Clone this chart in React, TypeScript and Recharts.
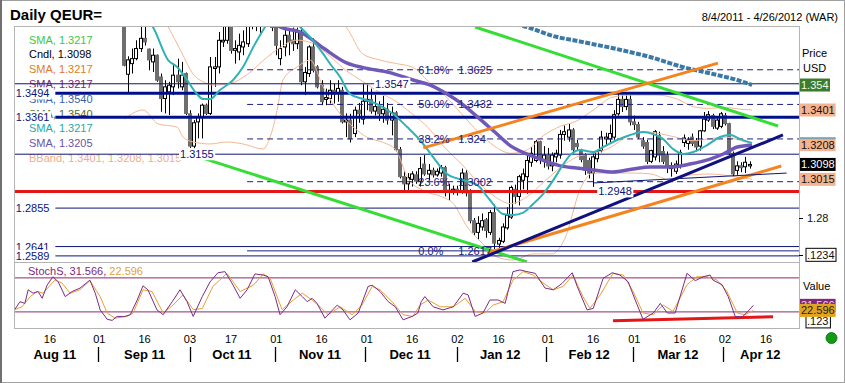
import React from 'react';
import { ComposedChart, Bar, Line, XAxis, YAxis, ReferenceLine, ReferenceDot } from 'recharts';

const FONT = '"Liberation Sans", Arial, Helvetica, sans-serif';
const W = 845;
const H = 383;

// x axis = trading-day number, day 0 = Thu 4 Aug 2011
const dayDomain: [number, number] = [-0.5, 190];
const priceDomain: [number, number] = [1.2555, 1.3863];
const stochDomain: [number, number] = [-8.4, 108];

const dayTicks = [8, 20, 31, 42, 52, 63, 74, 85, 96, 107, 117, 129, 140, 150, 161, 172, 182];
const dayLabels = ['16', '01', '16', '03', '17', '01', '16', '01', '16', '02', '16', '01', '16', '01', '16', '02', '16'];
const monthTicks = [9.2, 31, 52.2, 73.6, 95.5, 117.4, 139, 160.6, 180.6];
const monthLabels = ['Aug 11', 'Sep 11', 'Oct 11', 'Nov 11', 'Dec 11', 'Jan 12', 'Feb 12', 'Mar 12', 'Apr 12'];
const monthBreaks = [19.7, 42, 62.7, 84.6, 106.9, 128.6, 149.7, 171.6];

// daily candles, first one = Fri 9 Sep 2011 (day 26)
const FIRST_DAY = 26;
const opens = [
  1.3880, 1.3600, 1.3659, 1.3687, 1.3743, 1.3800, 1.3740, 1.3669, 1.3706, 1.3585,
  1.3465, 1.3502, 1.3530, 1.3595, 1.3530, 1.3604, 1.3380, 1.3200, 1.3335, 1.3363,
  1.3428, 1.3382, 1.3632, 1.3641, 1.3780, 1.3789, 1.3880, 1.3733, 1.3724, 1.3752,
  1.3770, 1.3890, 1.3920, 1.3900, 1.3910, 1.4180, 1.4150, 1.3870, 1.3687, 1.3752,
  1.3817, 1.3790, 1.3770, 1.3835, 1.3558, 1.3604, 1.3752, 1.3641, 1.3539, 1.3460,
  1.3465, 1.3511, 1.3493, 1.3511, 1.3335, 1.3345, 1.3270, 1.3400, 1.3350, 1.3450,
  1.3460, 1.3395, 1.3420, 1.3380, 1.3405, 1.3345, 1.3385, 1.3180, 1.3030, 1.2990,
  1.3015, 1.3040, 1.3005, 1.3100, 1.3045, 1.3065, 1.3040, 1.3050, 1.3080, 1.2955,
  1.2945, 1.2960, 1.2945, 1.3050, 1.2940, 1.2785, 1.2720, 1.2750, 1.2790, 1.2720,
  1.2830, 1.2655, 1.2670, 1.2745, 1.2805, 1.2960, 1.2920, 1.3010, 1.3030, 1.3110,
  1.3120, 1.3225, 1.3120, 1.3150, 1.3090, 1.3140, 1.3150, 1.3265, 1.3250, 1.3290,
  1.3215, 1.3170, 1.3150, 1.3120, 1.3050, 1.3130, 1.3175, 1.3240, 1.3240, 1.3250,
  1.3380, 1.3460, 1.3420, 1.3460, 1.3335, 1.3320, 1.3230, 1.3220, 1.3115, 1.3140,
  1.3260, 1.3170, 1.3150, 1.3075, 1.3060, 1.3090, 1.3220, 1.3215, 1.3250, 1.3230,
  1.3200, 1.3285, 1.3345, 1.3370, 1.3300, 1.3310, 1.3370, 1.3325, 1.3160, 1.3065,
  1.3090, 1.3085, 1.3090,
];
const highs = [
  1.3900, 1.3700, 1.3743, 1.3789, 1.3880, 1.3890, 1.3743, 1.3743, 1.3710, 1.3604,
  1.3567, 1.3558, 1.3659, 1.3687, 1.3669, 1.3610, 1.3400, 1.3345, 1.3382, 1.3437,
  1.3437, 1.3696, 1.3696, 1.3835, 1.3863, 1.3900, 1.3890, 1.3789, 1.3826, 1.3844,
  1.3900, 1.3960, 1.3970, 1.3960, 1.4240, 1.4240, 1.4160, 1.3880, 1.3789, 1.3850,
  1.3844, 1.3860, 1.3860, 1.3863, 1.3640, 1.3761, 1.3800, 1.3650, 1.3567, 1.3520,
  1.3567, 1.3548, 1.3567, 1.3530, 1.3382, 1.3380, 1.3420, 1.3440, 1.3545, 1.3547,
  1.3520, 1.3485, 1.3450, 1.3480, 1.3440, 1.3420, 1.3395, 1.3195, 1.3060, 1.3050,
  1.3060, 1.3060, 1.3140, 1.3150, 1.3100, 1.3080, 1.3075, 1.3095, 1.3090, 1.2990,
  1.2980, 1.2980, 1.3075, 1.3065, 1.2960, 1.2800, 1.2810, 1.2825, 1.2800, 1.2845,
  1.2875, 1.2690, 1.2770, 1.2860, 1.2980, 1.2985, 1.3040, 1.3075, 1.3160, 1.3195,
  1.3235, 1.3230, 1.3200, 1.3190, 1.3165, 1.3180, 1.3290, 1.3315, 1.3325, 1.3300,
  1.3235, 1.3185, 1.3160, 1.3135, 1.3160, 1.3180, 1.3285, 1.3275, 1.3320, 1.3400,
  1.3490, 1.3486, 1.3486, 1.3484, 1.3370, 1.3335, 1.3250, 1.3235, 1.3180, 1.3290,
  1.3280, 1.3200, 1.3170, 1.3110, 1.3120, 1.3180, 1.3265, 1.3250, 1.3270, 1.3245,
  1.3290, 1.3390, 1.3395, 1.3380, 1.3365, 1.3390, 1.3385, 1.3330, 1.3170, 1.3115,
  1.3110, 1.3140, 1.3115,
];
const lows = [
  1.3644, 1.3500, 1.3604, 1.3678, 1.3724, 1.3760, 1.3622, 1.3613, 1.3558, 1.3391,
  1.3382, 1.3373, 1.3484, 1.3521, 1.3511, 1.3373, 1.3190, 1.3155, 1.3243, 1.3243,
  1.3373, 1.3373, 1.3530, 1.3604, 1.3752, 1.3770, 1.3715, 1.3659, 1.3678, 1.3706,
  1.3752, 1.3850, 1.3840, 1.3830, 1.3900, 1.4100, 1.3840, 1.3706, 1.3650, 1.3700,
  1.3706, 1.3730, 1.3740, 1.3539, 1.3484, 1.3585, 1.3610, 1.3521, 1.3428, 1.3428,
  1.3437, 1.3437, 1.3447, 1.3326, 1.3250, 1.3220, 1.3250, 1.3330, 1.3320, 1.3400,
  1.3380, 1.3370, 1.3340, 1.3330, 1.3320, 1.3260, 1.3170, 1.3020, 1.2945, 1.2955,
  1.2975, 1.2990, 1.2975, 1.3035, 1.3010, 1.3025, 1.3030, 1.3030, 1.2920, 1.2900,
  1.2930, 1.2925, 1.2935, 1.2920, 1.2770, 1.2705, 1.2680, 1.2730, 1.2690, 1.2705,
  1.2625, 1.2620, 1.2660, 1.2735, 1.2795, 1.2880, 1.2870, 1.2960, 1.2935, 1.3085,
  1.3110, 1.3100, 1.3080, 1.3070, 1.3060, 1.3110, 1.3130, 1.3230, 1.3225, 1.3160,
  1.3178, 1.3110, 1.3040, 1.3020, 1.2973, 1.3110, 1.3165, 1.3200, 1.3215, 1.3235,
  1.3370, 1.3390, 1.3400, 1.3315, 1.3290, 1.3240, 1.3185, 1.3100, 1.3105, 1.3120,
  1.3110, 1.3100, 1.3050, 1.3030, 1.3045, 1.3075, 1.3195, 1.3180, 1.3200, 1.3170,
  1.3175, 1.3280, 1.3335, 1.3295, 1.3290, 1.3300, 1.3315, 1.3150, 1.3030, 1.3040,
  1.3055, 1.3050, 1.3075,
];
const closes = [
  1.3650, 1.3680, 1.3687, 1.3743, 1.3800, 1.3780, 1.3680, 1.3706, 1.3567, 1.3465,
  1.3530, 1.3539, 1.3595, 1.3558, 1.3595, 1.3382, 1.3200, 1.3330, 1.3363, 1.3428,
  1.3382, 1.3641, 1.3641, 1.3789, 1.3789, 1.3880, 1.3733, 1.3743, 1.3761, 1.3780,
  1.3890, 1.3920, 1.3900, 1.3910, 1.4180, 1.4150, 1.3860, 1.3761, 1.3743, 1.3817,
  1.3780, 1.3770, 1.3835, 1.3558, 1.3610, 1.3752, 1.3622, 1.3530, 1.3447, 1.3470,
  1.3511, 1.3490, 1.3521, 1.3335, 1.3345, 1.3240, 1.3400, 1.3380, 1.3450, 1.3460,
  1.3395, 1.3420, 1.3380, 1.3405, 1.3345, 1.3385, 1.3180, 1.3030, 1.2990, 1.3025,
  1.3045, 1.3005, 1.3075, 1.3045, 1.3065, 1.3040, 1.3060, 1.3080, 1.2950, 1.2945,
  1.2960, 1.2945, 1.3050, 1.2940, 1.2785, 1.2720, 1.2770, 1.2785, 1.2730, 1.2830,
  1.2660, 1.2675, 1.2750, 1.2815, 1.2970, 1.2920, 1.3030, 1.3045, 1.3120, 1.3160,
  1.3225, 1.3135, 1.3150, 1.3090, 1.3150, 1.3160, 1.3265, 1.3280, 1.3290, 1.3180,
  1.3197, 1.3125, 1.3065, 1.3050, 1.3140, 1.3170, 1.3250, 1.3250, 1.3270, 1.3375,
  1.3460, 1.3420, 1.3460, 1.3335, 1.3320, 1.3250, 1.3200, 1.3115, 1.3175, 1.3280,
  1.3150, 1.3115, 1.3085, 1.3090, 1.3100, 1.3165, 1.3245, 1.3235, 1.3215, 1.3195,
  1.3285, 1.3350, 1.3375, 1.3310, 1.3345, 1.3380, 1.3325, 1.3160, 1.3045, 1.3090,
  1.3080, 1.3110, 1.3098,
];

// indicator lines: [day, value]
const smaTeal = [
  [31, 1.392], [33, 1.3863], [36.7, 1.3679], [38.9, 1.364], [40.8, 1.3585], [43.7, 1.349], [45.2, 1.3462],
  [46.9, 1.3462], [49.3, 1.3512], [52.5, 1.3568], [54.9, 1.364], [57.4, 1.3751], [59.8, 1.3846], [62, 1.392],
  [66, 1.394], [68.8, 1.3863], [71.2, 1.3807], [74.4, 1.3713], [76.1, 1.3657], [78.5, 1.3585], [80.9, 1.349],
  [84.1, 1.3462], [87.5, 1.3434], [91.4, 1.3379], [94.8, 1.3306], [97.9, 1.3234], [101.1, 1.3139],
  [104.5, 1.3045], [108.4, 1.3011], [111.8, 1.2984], [114.9, 1.29], [118.1, 1.2822], [120.5, 1.2817],
  [123, 1.283], [125.4, 1.2878], [127.8, 1.2933], [130.3, 1.3011], [132, 1.3073], [134.4, 1.315],
  [136.8, 1.3178], [140, 1.3167], [142.4, 1.3195], [145.8, 1.3234], [149, 1.3262], [152.1, 1.3278],
  [154.6, 1.3267], [157, 1.3239], [159.4, 1.3184], [161.8, 1.3156], [164.3, 1.3167], [167.7, 1.3206],
  [170.8, 1.3251], [173.3, 1.3262], [175.7, 1.3239], [178.6, 1.3217],
];
const smaPurple = [
  [62, 1.392], [63.9, 1.3863], [68.8, 1.3835], [74.4, 1.3746], [80.2, 1.3662], [84.1, 1.3637], [90.6, 1.3609],
  [96.2, 1.3568], [100.4, 1.354], [104.5, 1.349], [108.4, 1.343], [112, 1.336], [116, 1.328], [120, 1.32],
  [124, 1.3155], [128, 1.312], [132, 1.309], [136, 1.3078], [140, 1.3067], [144.8, 1.3056], [149.7, 1.3073],
  [153.8, 1.3084], [158.7, 1.3084], [163.5, 1.31], [168.4, 1.3128], [171.6, 1.3156], [175, 1.3195], [178.6, 1.3205],
];
const smaLong = [
  [112, 1.392], [124.7, 1.3857], [129.5, 1.3818], [137.5, 1.3779], [145.8, 1.374], [153.8, 1.3696],
  [161.8, 1.364], [170.1, 1.3596], [175, 1.3568], [178.6, 1.354],
];
const bbUpper = [
  [26, 1.42], [34, 1.41], [42, 1.398], [50, 1.392], [58, 1.398], [64, 1.412], [70, 1.405], [76, 1.392],
  [80, 1.386], [84, 1.3713], [88, 1.368], [92, 1.366], [96, 1.364], [100, 1.356], [104, 1.348], [108, 1.338],
  [112, 1.328], [116, 1.32], [120, 1.316], [124, 1.318], [128, 1.326], [132, 1.331], [136, 1.334],
  [140, 1.3401], [144.8, 1.3473], [149.7, 1.3484], [155.5, 1.3484], [160.4, 1.3462], [164.3, 1.342],
  [168, 1.341], [172, 1.3415], [176, 1.3405], [178.6, 1.3401],
];
const bbMiddle = [
  [34, 1.395], [36.7, 1.3863], [40, 1.372], [42.8, 1.36], [45, 1.356], [48, 1.354], [52, 1.355], [56, 1.36],
  [60, 1.368], [64, 1.375], [68, 1.379], [72, 1.377], [76, 1.37], [80, 1.362], [84, 1.356], [88, 1.35],
  [92, 1.345], [96, 1.338], [100, 1.33], [104, 1.319], [108, 1.31], [112, 1.3], [116, 1.292], [120, 1.288],
  [124, 1.292], [128, 1.3], [132, 1.308], [136, 1.314], [140, 1.316], [144, 1.319], [148, 1.325],
  [152, 1.328], [156, 1.327], [160, 1.325], [164, 1.323], [168, 1.324], [172, 1.325], [176, 1.323], [178.6, 1.3208],
];
const bbLower = [
  [26, 1.335], [30.6, 1.3401], [34.3, 1.3323], [38.9, 1.3306], [40.3, 1.3251], [42.8, 1.3223], [46.9, 1.3212],
  [51, 1.3223], [54.9, 1.3212], [59.8, 1.3184], [61.5, 1.3251], [63.2, 1.3401], [64.6, 1.3568], [68, 1.364],
  [71.2, 1.3679], [74.4, 1.3529], [78.5, 1.3379], [82, 1.33], [85, 1.325], [89, 1.322], [92, 1.318],
  [95, 1.302], [99, 1.295], [103, 1.292], [106, 1.288], [109.4, 1.275], [113, 1.266], [116.6, 1.2583],
  [120.5, 1.2566], [125.4, 1.26], [130, 1.26], [133, 1.268], [137, 1.297], [140, 1.305], [145, 1.305],
  [150, 1.305], [154, 1.3045], [158.7, 1.3011], [163.5, 1.3039], [168.4, 1.3045], [171.6, 1.3039],
  [175, 1.3028], [178.6, 1.3015],
];

// stochastics %K and %D
const stochK = [
  [-0.5, 24.7], [0.7, 38], [1.9, 35], [2.7, 59], [3.9, 53], [5.1, 56], [6.1, 44], [7.3, 67], [8.7, 82], [10, 73],
  [11.7, 47], [13.4, 56], [15.3, 62], [17.7, 76], [19, 53], [20.2, 23.5], [21.9, 7], [23.1, 5], [24.3, 12],
  [26.2, 12], [27.5, 15], [29.2, 41], [30.6, 66], [31.8, 59], [34, 23.5], [35.5, 15], [37.7, 38], [39.6, 59],
  [41.3, 38], [42.8, 12], [45, 47], [46.9, 73], [48.8, 89], [50.5, 91], [52.2, 71], [54.2, 44], [55.9, 59],
  [57.8, 87], [59.8, 85], [61, 82], [62.7, 47], [63.9, 15], [65.6, 29], [67.6, 59], [69.3, 47], [70.5, 38],
  [71.7, 44], [72.9, 35], [74.8, 9], [77.8, 32], [79.2, 23.5], [80.9, 6], [82.9, 18], [85.3, 65], [86.3, 67],
  [88.2, 56], [90.2, 38], [91.9, 29], [93.8, 6], [96, 12], [97.4, 18], [98.2, 38], [99.1, 47], [101.1, 29],
  [103.5, 23.5], [106, 29], [108.4, 53], [109.6, 50], [111.3, 12], [113.2, 18], [114.9, 41], [116.9, 41],
  [118.6, 35], [120.5, 91], [122.2, 94], [123.9, 91], [125.9, 88], [128.3, 62], [130.3, 59], [132.4, 70],
  [134.9, 89], [136.1, 65], [138.5, 23.5], [140, 26], [142.4, 79], [144.6, 89], [146.5, 85], [148.5, 73],
  [150.2, 41], [152.1, 7], [154.6, 18], [156.3, 35], [158, 18], [159.9, 18], [162.8, 88], [164.8, 75],
  [166.7, 82], [168.4, 85], [169.1, 76], [171.3, 68], [172.8, 47], [174.5, 12], [176.2, 11], [177.6, 21],
  [178.9, 31.6],
];
const stochD = [
  [-0.5, 24], [1.2, 29], [3.2, 47], [4.9, 56], [6.3, 53], [9.2, 76], [10.9, 71], [12.9, 53], [15.3, 59],
  [17.7, 75], [20.2, 47], [21.9, 18], [23.8, 9], [26.7, 12], [28.2, 18], [30.6, 59], [32.8, 56], [35.5, 18],
  [37.9, 32], [40.3, 50], [42.8, 24], [45, 26], [47.6, 65], [51, 88], [54.2, 56], [57.4, 67], [59.8, 87],
  [61.5, 79], [64.4, 24], [67.1, 41], [69.3, 53], [71.7, 41], [73.6, 29], [75.6, 15], [78.5, 29], [81.4, 15],
  [83.8, 32], [86.3, 65], [88.2, 59], [91.1, 38], [93.8, 15], [96.2, 12], [97.9, 32], [99.9, 41], [102.8, 29],
  [106, 29], [108.9, 44], [111.3, 21], [113.7, 18], [115.7, 32], [118.1, 38], [120.5, 76], [123, 91],
  [125.4, 85], [127.8, 71], [130.3, 59], [132.7, 65], [135.1, 85], [137.5, 47], [139.2, 26], [141.7, 50],
  [144.8, 88], [147.3, 85], [149.7, 56], [152.1, 18], [154.6, 15], [157, 32], [159.4, 21], [162.8, 68],
  [165.2, 82], [167.7, 82], [170.1, 76], [172.5, 56], [175, 18], [176.9, 15], [178.9, 22.6],
];

// drawn levels and trend lines
const thickLevels = [1.3494, 1.3361];
const leftLevels = [1.3494, 1.3361, 1.2855, 1.2641, 1.2589];
const leftThinLevels = [1.2855, 1.2641, 1.2589];
const fullLevels = [1.3547, 1.3155];
const supportLevel = 1.2948;
const fibPct = ['61.8%', '50.0%', '38.2%', '23.6%', '0.0%'];
const fibText = ['1.3625', '1.3432', '1.324', '1.3002', '1.2617'];
const fibValues = [1.3625, 1.3432, 1.324, 1.3002, 1.2617];
const greenLow = [[42.8, 1.315], [123.9, 1.2555]];
const greenHigh = [[111.3, 1.3863], [184.9, 1.3312]];
const orangeHigh = [[98.7, 1.319], [170.3, 1.3662]];
const orangeLow = [[114.2, 1.2605], [185.7, 1.3089]];
const navyTrend = [[110.6, 1.2555], [186.1, 1.3262]];
const navyThin = [[140, 1.2995], [187, 1.305]];
const stochRed = [[144.8, 4.6], [183.7, 11.6]];

const priceTicks = [1.354, 1.3401, 1.3208, 1.3098, 1.3015, 1.28, 1.2595];
const priceTickText = ['1.354', '1.3401', '1.3208', '1.3098', '1.3015', '1.28', '.1234'];
const stochTicks = [31.566, 3.2, 22.596];
const stochTickText = ['31.566', '.123', '22.596'];

const legendText = ['SMA, 1.3217', 'Cndl, 1.3098', 'SMA, 1.3217', 'SMA, 1.3217', 'SMA, 1.3540', 'SMA, 1.3540',
  'SMA, 1.3217', 'SMA, 1.3205', 'BBand, 1.3401, 1.3208, 1.3015'];

const legendColors = ['#3cc83c', '#000000', '#e27a22', '#7a2a78', '#3c5fa8', '#4f6b22', '#26a8a8', '#6a54a8', '#f1ac86'];
const tickStyles = [
  { bg: '#3d7b31', fg: '#eaffe4' },
  { bg: '#f5b48f', fg: '#111' },
  { bg: '#f5b48f', fg: '#111', edge: '#7fa3ac' },
  { bg: '#000', fg: '#fff' },
  { bg: '#f5b48f', fg: '#111' },
  { fg: '#111', dash: true, inset: 6 },
  { bg: '#fff', fg: '#111', border: '#000', dash: true, inset: 6 },
];
const stochTickStyles = [
  { bg: '#7e2a78', fg: '#f3d0ef' },
  { bg: '#fff', fg: '#111', border: '#000', inset: 6 },
  { bg: '#e2a41c', fg: '#222' },
];

const NAVY = '#0c1478';
const BB = '#f4b893';

const candles = opens.map((o, k) => ({
  i: FIRST_DAY + k, o, h: highs[k], l: lows[k], c: closes[k], range: [lows[k], highs[k]],
}));
const pts = (arr: number[][]) => arr.map(([i, v]) => ({ i, v }));
const seg = (arr: number[][]) => arr.map(([x, y]) => ({ x, y }));

function Candle(props: any) {
  const { x, y, width, height, payload } = props;
  if (!payload || y == null || height == null) return null;
  const top = Math.min(y, y + height);
  const bot = Math.max(y, y + height);
  const span = payload.h - payload.l;
  const k = span > 0 ? (bot - top) / span : 0;
  const py = (v: number) => top + (payload.h - v) * k;
  const cx = Math.round(x + width / 2) + 0.5;
  const up = payload.c >= payload.o;
  const yo = py(payload.o);
  const yc = py(payload.c);
  const bTop = Math.min(yo, yc);
  const bH = Math.max(1, Math.abs(yc - yo));
  return (
    <g>
      <line x1={cx} x2={cx} y1={top} y2={bot} stroke="#000" strokeWidth={1} />
      <rect x={cx - 2} y={bTop} width={3} height={bH} fill={up ? '#fff' : '#6e6e6e'}
        stroke={up ? '#000' : '#6e6e6e'} strokeWidth={1} />
    </g>
  );
}

function TextAt({ cx, cy, text, color, bg }: any) {
  if (cx == null || cy == null) return null;
  const w = text.length * 5.7;
  return (
    <g>
      {bg && <rect x={cx - 1} y={cy - 6} width={w + 2} height={12} fill="#fff" />}
      <text x={cx} y={cy + 4} fill={color} fontSize={11} fontFamily={FONT}>{text}</text>
    </g>
  );
}

function BoxTick({ x, y, text, s }: any) {
  const left = x + 1 + (s.inset || 0);
  const w = text.length * 5.6 + 2;
  return (
    <g>
      {s.dash && <line x1={x} x2={x + 4} y1={Math.round(y) + 0.5} y2={Math.round(y) + 0.5} stroke="#000" />}
      {s.bg && <rect x={left} y={y - 6.5} width={w} height={13} fill={s.bg} stroke={s.border || 'none'} />}
      {s.edge && <rect x={left} y={y - 7.5} width={w} height={2} fill={s.edge} />}
      <text x={left + 1} y={y + 4} fill={s.fg} fontSize={11} fontFamily={FONT}>{text}</text>
    </g>
  );
}

function PriceTick(props: any) {
  const k = priceTicks.indexOf(props.payload?.value);
  if (k < 0) return null;
  return <BoxTick x={props.x} y={props.y} text={priceTickText[k]} s={tickStyles[k]} />;
}

function StochTick(props: any) {
  const k = stochTicks.indexOf(props.payload?.value);
  if (k < 0) return null;
  return <BoxTick x={props.x} y={props.y} text={stochTickText[k]} s={stochTickStyles[k]} />;
}

function DayTick(props: any) {
  const k = dayTicks.indexOf(props.payload?.value);
  if (k < 0) return null;
  return (
    <text x={props.x} y={props.y + 15} textAnchor="middle" fontSize={11} fontFamily={FONT} fill="#000">
      {dayLabels[k]}
    </text>
  );
}

function MonthTick(props: any) {
  const v = props.payload?.value;
  const k = monthTicks.indexOf(v);
  if (k >= 0) {
    return (
      <text x={props.x} y={props.y + 14} textAnchor="middle" fontSize={13} fontWeight="bold" fontFamily={FONT} fill="#000">
        {monthLabels[k]}
      </text>
    );
  }
  const xx = Math.round(props.x) + 0.5;
  return <line x1={xx} x2={xx} y1={props.y + 2} y2={props.y + 17} stroke="#000" strokeWidth={1.3} />;
}

const lineProps = { dataKey: 'v', dot: false, activeDot: false, isAnimationActive: false } as const;

export default function App() {
  return (
    <div style={{ position: 'absolute', left: 0, top: 0, width: W, height: H, background: '#fff', overflow: 'hidden' }}>
      <svg width={W} height={H} style={{ position: 'absolute', left: 0, top: 0 }}>
        <rect x={0.5} y={0.5} width={W - 1} height={H - 1} fill="none" stroke="#a0a0a0" />
        <line x1={1} x2={1} y1={0} y2={H} stroke="#707070" strokeWidth={2} />
        <rect x={14.5} y={26.5} width={785} height={236} fill="none" stroke="#b4b4b4" />
        <rect x={14.5} y={262.5} width={785} height={66} fill="none" stroke="#b4b4b4" />
        <text x={10} y={19.5} fontSize={15} fontWeight="bold" fontFamily={FONT} fill="#000">Daily QEUR=</text>
        <text x={838} y={20.5} fontSize={11} textAnchor="end" fontFamily={FONT} fill="#000">8/4/2011 - 4/26/2012 (WAR)</text>
        {legendText.map((t, k) => (
          <text key={k} x={29} y={43.5 + k * 14.8} fontSize={11} fontFamily={FONT} fill={legendColors[k]}>{t}</text>
        ))}
        <text x={802} y={56.5} fontSize={11} fontFamily={FONT} fill="#000">Price</text>
        <text x={803} y={72} fontSize={11} fontFamily={FONT} fill="#000">USD</text>
        <text x={803} y={290} fontSize={11} fontFamily={FONT} fill="#000">Value</text>
        <text x={28} y={275} fontSize={11} fontFamily={FONT}>
          <tspan fill="#7e2a7c">StochS, 31.566, </tspan>
          <tspan fill="#e2a233">22.596</tspan>
        </text>
        <circle cx={831.5} cy={338} r={5.5} fill="#129a12" stroke="#0b6a0b" strokeWidth={0.8} />
      </svg>

      <div style={{ position: 'absolute', left: 0, top: 0 }}>
        <ComposedChart width={W} height={265} data={candles} margin={{ top: 27, right: 0, bottom: 3, left: 15 }}>
          <XAxis type="number" dataKey="i" domain={dayDomain} allowDataOverflow hide />
          <YAxis orientation="right" width={46} domain={priceDomain} allowDataOverflow ticks={priceTicks}
            interval={0} axisLine={false} tickLine={false} tickSize={0} tickMargin={0}
            tick={(p: any) => <PriceTick {...p} />} />

          <Line {...lineProps} data={pts(bbUpper)} type="monotone" stroke={BB} strokeWidth={1} />
          <Line {...lineProps} data={pts(bbMiddle)} type="monotone" stroke={BB} strokeWidth={1} />
          <Line {...lineProps} data={pts(bbLower)} type="monotone" stroke={BB} strokeWidth={1} />

          <Bar dataKey="range" barSize={3} isAnimationActive={false} shape={(p: any) => <Candle {...p} />} />

          {fullLevels.map((v) => (
            <ReferenceLine key={v} y={v} stroke={NAVY} strokeWidth={1} />
          ))}
          {leftThinLevels.map((v) => (
            <ReferenceLine key={v} segment={[{ x: 9.3, y: v }, { x: 190, y: v }]} stroke={NAVY} strokeWidth={1} />
          ))}
          {thickLevels.map((v) => (
            <ReferenceLine key={v} segment={[{ x: 9.3, y: v }, { x: 190, y: v }]} stroke="#00108a" strokeWidth={3} />
          ))}
          <ReferenceLine y={supportLevel} stroke="#e21818" strokeWidth={3} />
          {fibValues.map((v, k) => (
            <ReferenceLine key={v} segment={[{ x: 55.9, y: v }, { x: 190, y: v }]} stroke="#1c2080"
              strokeWidth={1} strokeDasharray={k === 4 ? undefined : '6 4'} />
          ))}

          {leftLevels.map((v) => (
            <ReferenceDot key={'l' + v} x={-0.3} y={v} r={0}
              shape={(p: any) => <TextAt cx={p.cx} cy={p.cy} text={v.toFixed(4)} color={NAVY} bg />} />
          ))}
          <ReferenceDot x={39.6} y={fullLevels[1]} r={0}
            shape={(p: any) => <TextAt cx={p.cx} cy={p.cy} text="1.3155" color={NAVY} bg />} />
          <ReferenceDot x={87} y={fullLevels[0]} r={0}
            shape={(p: any) => <TextAt cx={p.cx} cy={p.cy} text="1.3547" color={NAVY} bg />} />
          <ReferenceDot x={141.2} y={supportLevel} r={0}
            shape={(p: any) => <TextAt cx={p.cx} cy={p.cy} text="1.2948" color={NAVY} bg />} />
          {fibValues.map((v, k) => (
            <ReferenceDot key={'p' + v} x={97.5} y={v} r={0}
              shape={(p: any) => <TextAt cx={p.cx} cy={p.cy} text={fibPct[k]} color="#1c2080" />} />
          ))}
          {fibValues.map((v, k) => (
            <ReferenceDot key={'v' + v} x={107.2} y={v} r={0}
              shape={(p: any) => <TextAt cx={p.cx} cy={p.cy} text={fibText[k]} color="#1c2080" />} />
          ))}

          <Line {...lineProps} data={pts(smaLong)} type="monotone" stroke="#3a78a6" strokeWidth={4} strokeDasharray="5 1.5" />
          <Line {...lineProps} data={pts(smaPurple)} type="monotone" stroke="#7058b8" strokeWidth={3.5} />
          <Line {...lineProps} data={pts(smaTeal)} type="monotone" stroke="#2fb2b6" strokeWidth={2} />

          <ReferenceLine segment={seg(greenLow)} stroke="#35dd35" strokeWidth={3} ifOverflow="hidden" />
          <ReferenceLine segment={seg(greenHigh)} stroke="#35dd35" strokeWidth={3} ifOverflow="hidden" />
          <ReferenceLine segment={seg(orangeHigh)} stroke="#f5841f" strokeWidth={3} ifOverflow="hidden" />
          <ReferenceLine segment={seg(orangeLow)} stroke="#f5841f" strokeWidth={3} ifOverflow="hidden" />
          <ReferenceLine segment={seg(navyTrend)} stroke="#10107e" strokeWidth={3} ifOverflow="hidden" />
          <ReferenceLine segment={seg(navyThin)} stroke={NAVY} strokeWidth={1} ifOverflow="hidden" />
        </ComposedChart>
      </div>

      <div style={{ position: 'absolute', left: 0, top: 262 }}>
        <ComposedChart width={W} height={121} margin={{ top: 0, right: 0, bottom: 0, left: 15 }}>
          <XAxis type="number" dataKey="i" domain={dayDomain} allowDataOverflow ticks={dayTicks} interval={0}
            height={17} axisLine={false} tickLine={false} tickSize={0} tickMargin={0}
            tick={(p: any) => <DayTick {...p} />} />
          <XAxis xAxisId="m" type="number" dataKey="i" domain={dayDomain} allowDataOverflow
            ticks={[...monthTicks, ...monthBreaks]} interval={0} height={38} axisLine={false} tickLine={false}
            tickSize={0} tickMargin={0} tick={(p: any) => <MonthTick {...p} />} />
          <YAxis orientation="right" width={46} domain={stochDomain} allowDataOverflow ticks={stochTicks}
            interval={0} axisLine={false} tickLine={false} tickSize={0} tickMargin={0}
            tick={(p: any) => <StochTick {...p} />} />
          <ReferenceLine y={80} stroke="#8c2a6e" strokeWidth={1} />
          <ReferenceLine y={20} stroke="#8c2a6e" strokeWidth={1} />
          <ReferenceLine segment={seg(stochRed)} stroke="#e21818" strokeWidth={3} ifOverflow="hidden" />
          <Line {...lineProps} data={pts(stochD)} type="linear" stroke="#e8a030" strokeWidth={1} />
          <Line {...lineProps} data={pts(stochK)} type="linear" stroke="#7c2c84" strokeWidth={1} />
        </ComposedChart>
      </div>
    </div>
  );
}
